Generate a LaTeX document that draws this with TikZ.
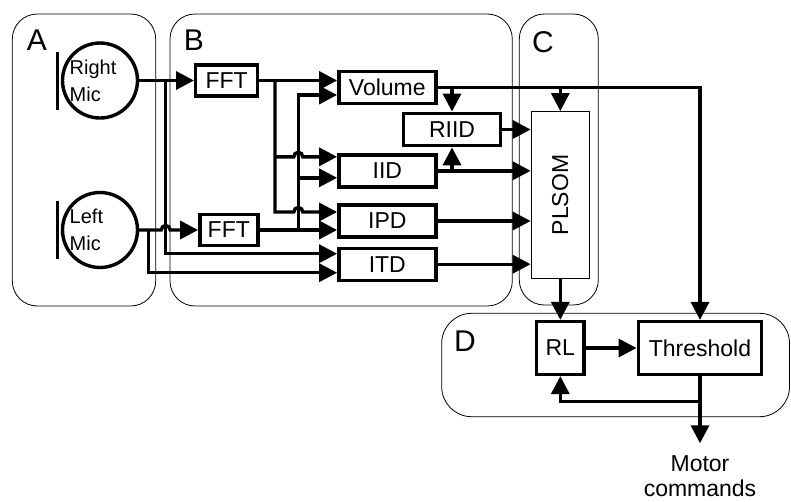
\documentclass[tikz,border=0pt]{standalone}
\usepackage{fontspec}
\setmainfont{Liberation Sans}
\usepackage{graphicx}
\usetikzlibrary{arrows.meta}

\begin{document}
\begin{tikzpicture}[x=1pt,y=-1pt,>={Triangle[length=18pt,width=18pt]},line width=3.4pt,
  grp/.style={draw,line width=0.8pt,rounded corners=25pt},
  grplabel/.style={font=\fontsize{30}{30}\selectfont,inner sep=0pt},
  block/.style={draw,font=\fontsize{23}{25}\selectfont,inner sep=0pt},
  mic/.style={draw,circle,minimum size=75pt,inner sep=0pt},
  mictext/.style={anchor=west,align=left,font=\fontsize{20}{27}\selectfont,inner sep=0pt}]
\useasboundingbox (0,0) rectangle (791,501);
% groups
\draw[grp] (12.3,14) rectangle (155.7,306);
\draw[grp] (170,14) rectangle (512.3,306);
\draw[grp] (519.3,14) rectangle (598.3,305);
\draw[grp,rounded corners=30pt] (441.7,313.3) rectangle (789.5,416.7);
\node[grplabel] (labA) at (37,40) {A};
\node[grplabel] (labB) at (194,40) {B};
\node[grplabel] (labC) at (543,42) {C};
\node[grplabel] (labD) at (465,341) {D};
% microphones
\node[mic] (rmic) at (100,80.5) {};
\node[mic] (lmic) at (100,230) {};
\draw ([xshift=-3.5pt,yshift=29pt]rmic.west) -- ([xshift=-3.5pt,yshift=-29pt]rmic.west);
\draw ([xshift=-3.5pt,yshift=29pt]lmic.west) -- ([xshift=-3.5pt,yshift=-29pt]lmic.west);
\node[mictext] (rmictxt) at (68,80.5) {Right\\Mic};
\node[mictext] (lmictxt) at (68,230) {Left\\Mic};
% blocks
\node[block,minimum width=62pt,minimum height=31pt] (fft1) at (226.7,80.5) {FFT};
\node[block,minimum width=58pt,minimum height=31pt] (fft2) at (228.8,230) {FFT};
\node[block,minimum width=97pt,minimum height=32.5pt] (vol) at (387.3,87.5) {Volume};
\node[block,minimum width=97.4pt,minimum height=32.4pt] (riid) at (452,129.5) {RIID};
\node[block,minimum width=97pt,minimum height=32pt] (iid) at (387.3,170.8) {IID};
\node[block,minimum width=97pt,minimum height=32pt] (ipd) at (387.3,221) {IPD};
\node[block,minimum width=97pt,minimum height=32pt] (itd) at (387.3,264.2) {ITD};
\node[block,line width=0.8pt,minimum width=58.5pt,minimum height=167pt] (plsom) at (560.3,195) {\rotatebox{90}{PLSOM}};
\node[block,minimum width=47.5pt,minimum height=52.8pt] (rl) at (560.3,348) {RL};
\node[block,minimum width=123.4pt,minimum height=52.8pt] (thr) at (700,348) {Threshold};
\node[block,draw=none,align=center,inner ysep=11pt,anchor=north] (motor) at (700,443.3) {Motor\\commands};
% junctions and inputs
\coordinate (j1) at (165.7,80.5);
\coordinate (j2) at (148.3,230);
\coordinate (j3) at (275,80.5);
\coordinate (j4) at (298.3,230);
\coordinate (volA) at ([yshift=7pt]vol.west);
\coordinate (volB) at ([yshift=-7.5pt]vol.west);
\coordinate (iidA) at ([yshift=14pt]iid.west);
\coordinate (iidB) at ([yshift=-7pt]iid.west);
\coordinate (ipdA) at ([yshift=9pt]ipd.west);
\coordinate (ipdB) at ([yshift=-9pt]ipd.west);
\coordinate (itdA) at ([yshift=10.5pt]itd.west);
\coordinate (itdB) at ([yshift=-8.5pt]itd.west);
\coordinate (fb) at (700,401.7);
% wires
\draw[->] (rmic.east) -- (fft1.west);
\draw[->] (j1) |- (itdA);
\draw[->] (lmic.east) -- ([xshift=-4.5pt]j1 |- j2) arc[start angle=180,end angle=0,radius=4.5pt] -- (fft2.west);
\draw[->] (j2) |- (itdB);
\draw[->] (fft1.east) -- (volA);
\draw[->] (j3) -- (j3 |- ipdA) -- ([xshift=-4.5pt]j4 |- ipdA) arc[start angle=180,end angle=0,radius=4.5pt] -- (ipdA);
\draw[->] (j3 |- iidA) -- ([xshift=-4.5pt]j4 |- iidA) arc[start angle=180,end angle=0,radius=4.5pt] -- (iidA);
\draw[->] (fft2.east) -- (ipdB);
\draw[->] (j4) |- (volB);
\draw[->] (j4 |- iidB) -- (iidB);
\draw[->] (vol.east) -| (thr.north);
\draw[->] (riid.north |- vol.east) -- (riid.north);
\draw[->] (plsom.north |- vol.east) -- (plsom.north);
\foreach \s in {riid,iid,ipd,itd} \draw[->] (\s.east) -- (\s.east -| plsom.west);
\draw[->] (riid.south |- iid.east) -- (riid.south);
\draw[->] (plsom.south) -- (rl.north);
\draw[->] (rl.east) -- (thr.west);
\draw[->] (thr.south) -- (motor.north);
\draw[->] (fb) -| (rl.south);
\end{tikzpicture}
\end{document}
